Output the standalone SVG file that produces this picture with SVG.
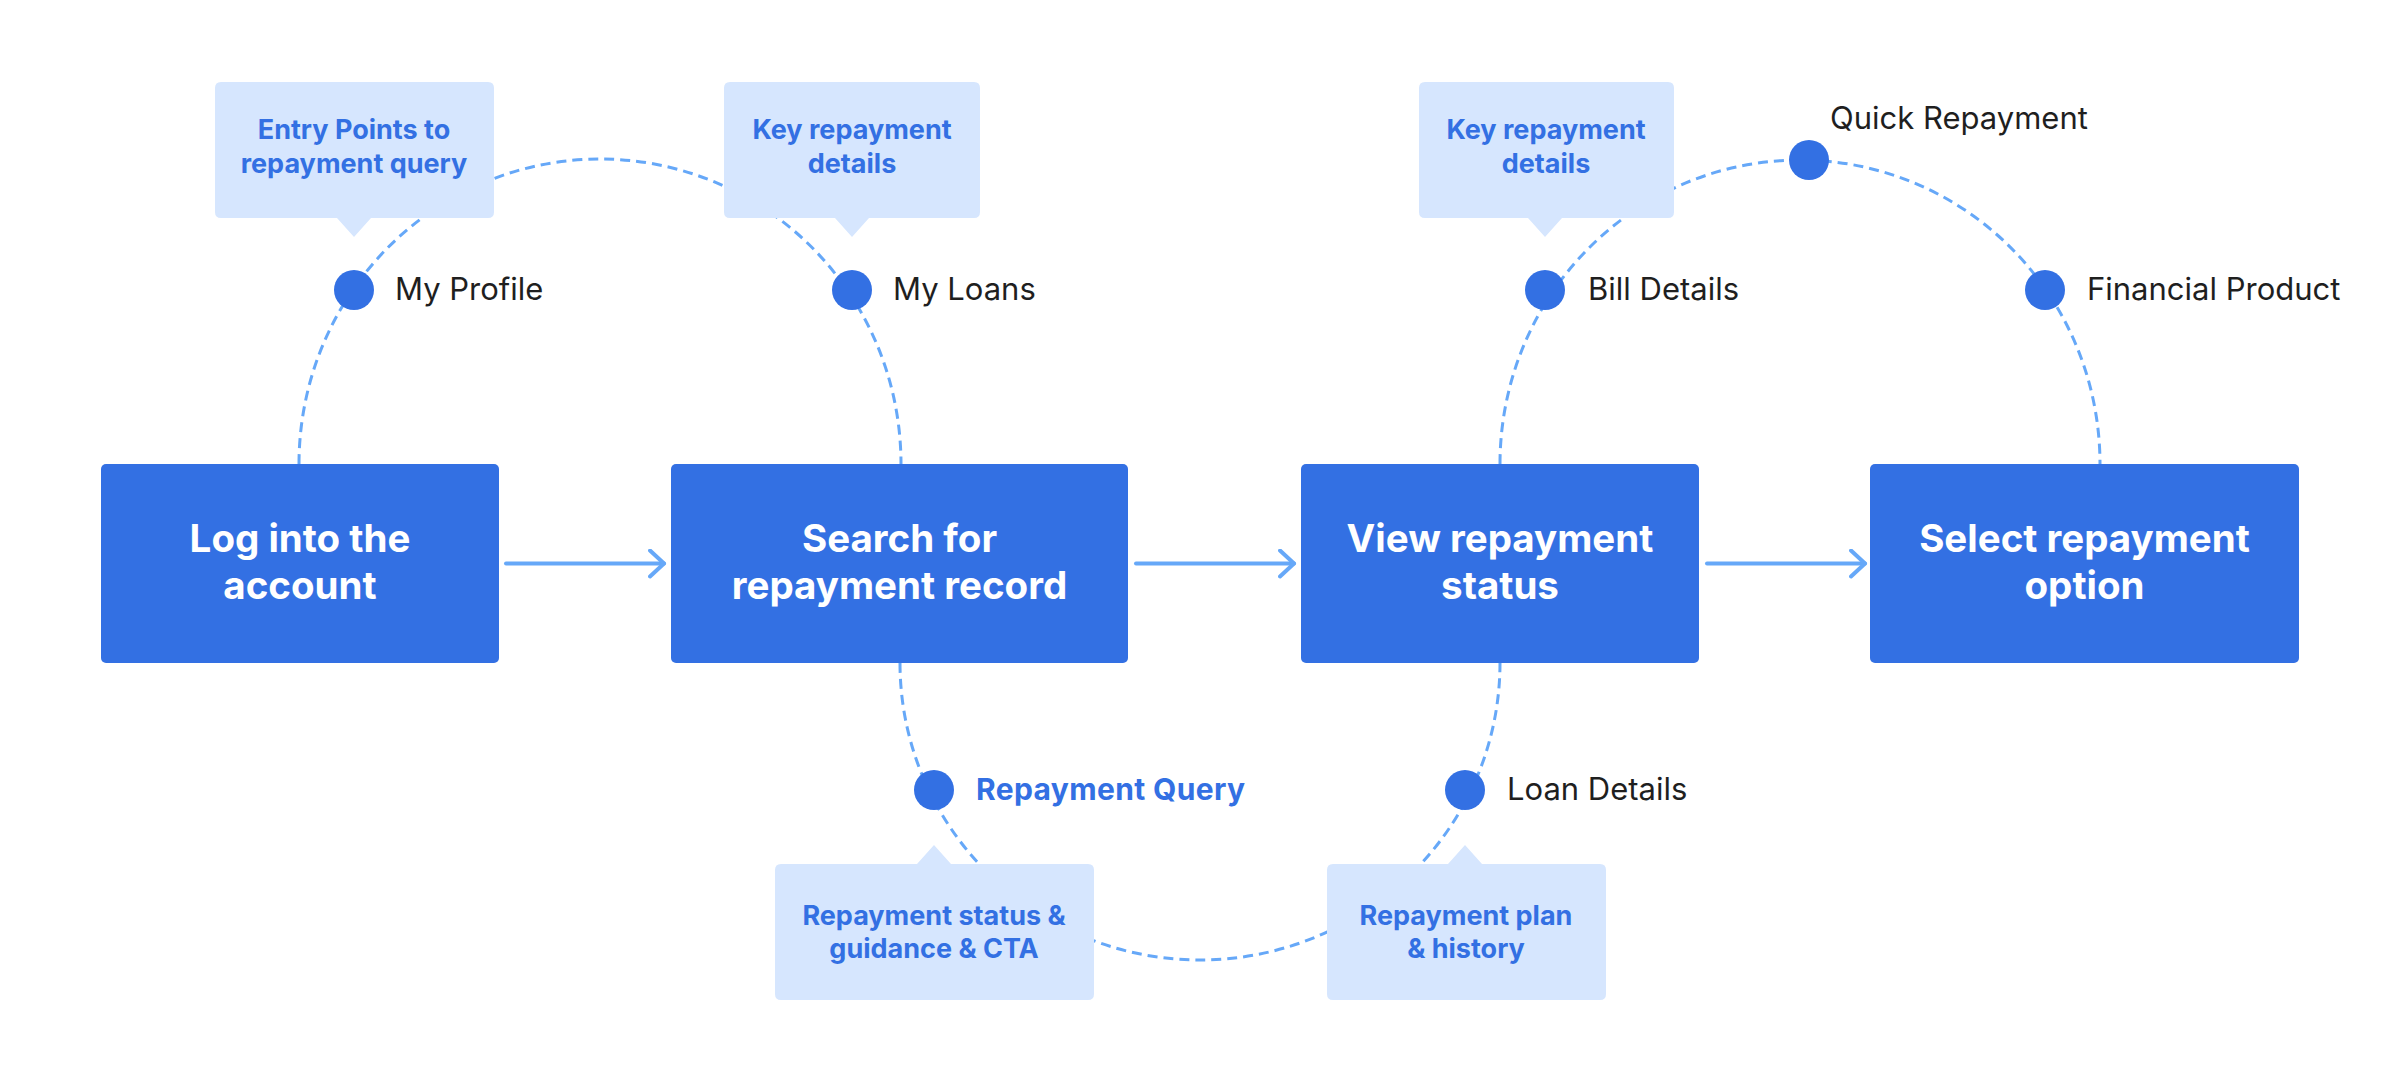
<svg xmlns="http://www.w3.org/2000/svg" width="2400" height="1080" viewBox="0 0 2400 1080">
  <defs>
    <style>
      .node rect { fill: #3370E3; }
      .node text { fill: #FFFFFF; font-family: Inter, "Liberation Sans", sans-serif; font-weight: 700; font-size: 38.5px; text-anchor: middle; }
      .callout path { fill: #D6E6FE; }
      .callout text { fill: #3370E3; font-family: Inter, "Liberation Sans", sans-serif; font-weight: 700; font-size: 27px; text-anchor: middle; }
      .dot circle { fill: #3370E3; }
      .dot text { fill: #1F1F1F; font-family: Inter, "Liberation Sans", sans-serif; font-weight: 400; font-size: 31px; }
      .dot text.hl { fill: #3370E3; font-weight: 700; font-size: 30px; }
      .arc { fill: none; stroke: #66A8F8; stroke-width: 3; stroke-dasharray: 10 6; }
      .flow { fill: none; stroke: #66A8F8; stroke-width: 4; stroke-linecap: round; stroke-linejoin: round; }
    </style>
    <marker id="chev" viewBox="0 0 20 30" refX="16" refY="15" markerWidth="20" markerHeight="30" markerUnits="userSpaceOnUse" orient="auto">
      <path d="M2 2 L16 15 L2 28" fill="none" stroke="#66A8F8" stroke-width="4" stroke-linecap="round" stroke-linejoin="round"/>
    </marker>
  </defs>
  <rect width="2400" height="1080" fill="#FFFFFF"/>

  <g id="connectors">
    <path class="arc" d="M 299 464 A 301 305 0 0 1 901 464"/>
    <path class="arc" d="M 1500 464 A 300 304 0 0 1 2100 464"/>
    <path class="arc" d="M 900 663 A 300 297 0 0 0 1500 663"/>
    <path class="flow" d="M 506 563.5 L 664 563.5" marker-end="url(#chev)"/>
    <path class="flow" d="M 1136 563.5 L 1294 563.5" marker-end="url(#chev)"/>
    <path class="flow" d="M 1707 563.5 L 1865 563.5" marker-end="url(#chev)"/>
  </g>

  <g id="node-login" class="node">
    <rect x="101" y="464" width="398" height="199" rx="5"/>
    <text x="300" y="552">Log into the</text>
    <text x="300" y="599">account</text>
  </g>
  <g id="node-search" class="node">
    <rect x="671" y="464" width="457" height="199" rx="5"/>
    <text x="899.5" y="552">Search for</text>
    <text x="899.5" y="599">repayment record</text>
  </g>
  <g id="node-view" class="node">
    <rect x="1301" y="464" width="398" height="199" rx="5"/>
    <text x="1500" y="552">View repayment</text>
    <text x="1500" y="599">status</text>
  </g>
  <g id="node-select" class="node">
    <rect x="1870" y="464" width="429" height="199" rx="5"/>
    <text x="2084.5" y="552">Select repayment</text>
    <text x="2084.5" y="599">option</text>
  </g>

  <g id="callout-entry" class="callout">
    <path d="M 221 82 H 488 Q 494 82 494 88 V 212 Q 494 218 488 218 H 371 L 354 237 L 337 218 H 221 Q 215 218 215 212 V 88 Q 215 82 221 82 Z"/>
    <text x="354" y="139">Entry Points to</text>
    <text x="354" y="173">repayment query</text>
  </g>
  <g id="callout-key1" class="callout">
    <path d="M 730 82 H 974 Q 980 82 980 88 V 212 Q 980 218 974 218 H 869 L 852 237 L 835 218 H 730 Q 724 218 724 212 V 88 Q 724 82 730 82 Z"/>
    <text x="852" y="139">Key repayment</text>
    <text x="852" y="173">details</text>
  </g>
  <g id="callout-key2" class="callout">
    <path d="M 1425 82 H 1668 Q 1674 82 1674 88 V 212 Q 1674 218 1668 218 H 1562 L 1545 237 L 1528 218 H 1425 Q 1419 218 1419 212 V 88 Q 1419 82 1425 82 Z"/>
    <text x="1546" y="139">Key repayment</text>
    <text x="1546" y="173">details</text>
  </g>
  <g id="callout-status" class="callout">
    <path d="M 781 864 H 917 L 934 845 L 951 864 H 1088 Q 1094 864 1094 870 V 994 Q 1094 1000 1088 1000 H 781 Q 775 1000 775 994 V 870 Q 775 864 781 864 Z"/>
    <text x="934" y="925">Repayment status &amp;</text>
    <text x="934" y="958">guidance &amp; CTA</text>
  </g>
  <g id="callout-plan" class="callout">
    <path d="M 1333 864 H 1448 L 1465 845 L 1482 864 H 1600 Q 1606 864 1606 870 V 994 Q 1606 1000 1600 1000 H 1333 Q 1327 1000 1327 994 V 870 Q 1327 864 1333 864 Z"/>
    <text x="1466" y="925">Repayment plan</text>
    <text x="1466" y="958">&amp; history</text>
  </g>

  <g id="dot-profile" class="dot">
    <circle cx="354" cy="290" r="20"/>
    <text x="395" y="300">My Profile</text>
  </g>
  <g id="dot-loans" class="dot">
    <circle cx="852" cy="290" r="20"/>
    <text x="893" y="300">My Loans</text>
  </g>
  <g id="dot-bill" class="dot">
    <circle cx="1545" cy="290" r="20"/>
    <text x="1588" y="300">Bill Details</text>
  </g>
  <g id="dot-quick" class="dot">
    <circle cx="1809" cy="160" r="20"/>
    <text x="1830" y="129">Quick Repayment</text>
  </g>
  <g id="dot-financial" class="dot">
    <circle cx="2045" cy="290" r="20"/>
    <text x="2087" y="300">Financial Product</text>
  </g>
  <g id="dot-query" class="dot">
    <circle cx="934" cy="790" r="20"/>
    <text class="hl" x="976" y="800" textLength="269">Repayment Query</text>
  </g>
  <g id="dot-loandetails" class="dot">
    <circle cx="1465" cy="790" r="20"/>
    <text x="1507" y="800">Loan Details</text>
  </g>
</svg>
